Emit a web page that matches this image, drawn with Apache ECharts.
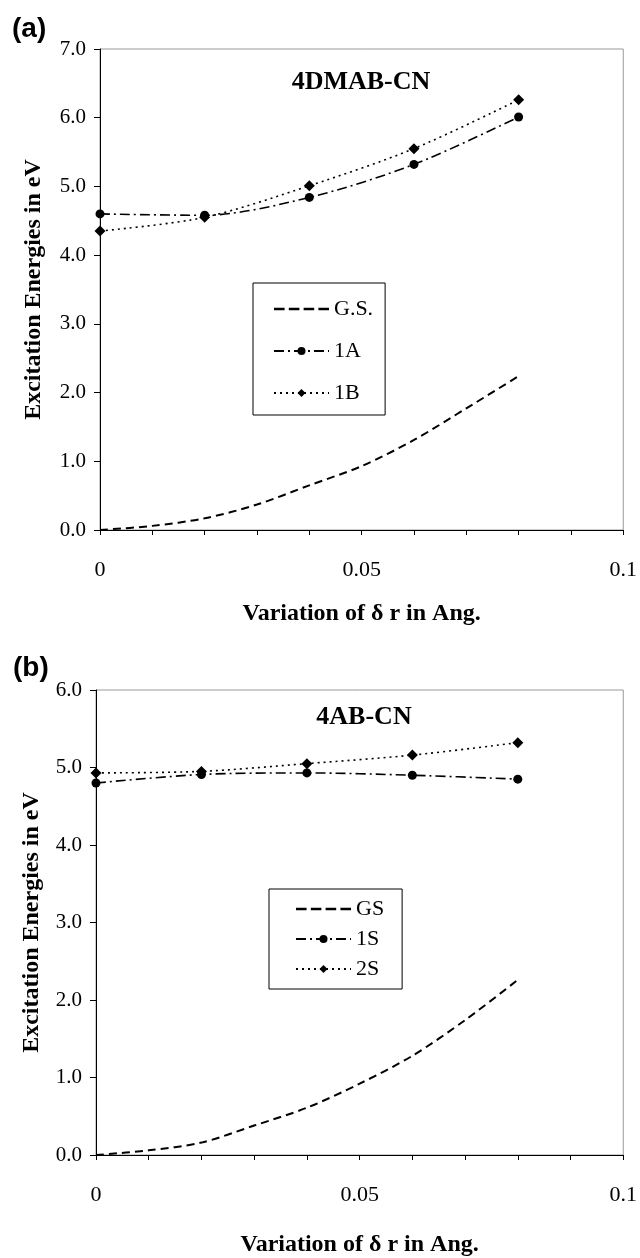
<!DOCTYPE html>
<html>
<head>
<meta charset="utf-8">
<script src="https://cdn.jsdelivr.net/npm/echarts@6/dist/echarts.min.js"></script>
<style>
html,body{margin:0;padding:0;background:#fff;}
#main{width:640px;height:1258px;}
</style>
</head>
<body>
<div id="main"></div>
<script>
// x positions of computed points (delta r, Ang.)
var xVals = [0, 0.02, 0.04, 0.06, 0.08];
var gsX = [0, 0.01, 0.02, 0.03, 0.04, 0.05, 0.06, 0.07, 0.08];

// panel (a) 4DMAB-CN
var aGS = [0, 0.06, 0.17, 0.37, 0.65, 0.93, 1.31, 1.77, 2.24];
var a1A = [4.60, 4.58, 4.84, 5.32, 6.01];
var a1B = [4.35, 4.55, 5.01, 5.55, 6.26];

// panel (b) 4AB-CN
var bGS = [0, 0.06, 0.16, 0.38, 0.61, 0.92, 1.28, 1.74, 2.26];
var b1S = [4.80, 4.91, 4.93, 4.90, 4.85];
var b2S = [4.93, 4.95, 5.05, 5.16, 5.32];

var xLabels = ['0', '0.05', '0.1'];

var serif = 'Liberation Serif';
// dashed line legend icon for the ground state (no marker)
var dashIcon = 'path://M0,9h10v2.4h-10z M14,9h10v2.4h-10z M28,9h10v2.4h-10z M42,9h10v2.4h-10z';

function pairs(xs, ys) {
    var out = [];
    for (var i = 0; i < ys.length; i++) {
        out.push([xs[i], ys[i]]);
    }
    return out;
}

function xAxisFor(gridIndex, gap) {
    return {
        type: 'value', gridIndex: gridIndex, min: 0, max: 0.1, interval: 0.01,
        name: 'Variation of δ r in Ang.', nameLocation: 'middle', nameGap: gap,
        nameTextStyle: {fontFamily: serif, fontWeight: 'bold', fontSize: 24, color: '#000'},
        axisLine: {onZero: false, lineStyle: {color: '#000', width: 1}},
        axisTick: {show: true, inside: false, length: 5, lineStyle: {color: '#000'}},
        splitLine: {show: false},
        axisLabel: {
            showMinLabel: true, showMaxLabel: true, margin: 29,
            fontFamily: serif, fontSize: 22, color: '#000',
            formatter: function (v) {
                if (Math.abs(v) < 1e-9) return xLabels[0];
                if (Math.abs(v - 0.05) < 1e-9) return xLabels[1];
                if (Math.abs(v - 0.1) < 1e-9) return xLabels[2];
                return '';
            }
        }
    };
}

function yAxisFor(gridIndex, max, gap) {
    return {
        type: 'value', gridIndex: gridIndex, min: 0, max: max, interval: 1,
        name: 'Excitation Energies in eV', nameLocation: 'middle', nameGap: gap,
        nameTextStyle: {fontFamily: serif, fontWeight: 'bold', fontSize: 24, color: '#000'},
        axisLine: {show: true, lineStyle: {color: '#000', width: 1}},
        axisTick: {show: true, inside: false, length: 6, lineStyle: {color: '#000'}},
        splitLine: {show: false},
        axisLabel: {
            margin: 14, fontFamily: serif, fontSize: 21, color: '#000',
            formatter: function (v) { return v.toFixed(1); }
        }
    };
}

function lineSeries(name, idx, data, dash, symbol, size, width, smooth) {
    return {
        name: name, type: 'line', xAxisIndex: idx, yAxisIndex: idx,
        data: data, smooth: smooth,
        symbol: symbol, symbolSize: size, showSymbol: symbol !== 'none',
        itemStyle: {color: '#000'},
        lineStyle: {color: '#000', width: width, type: dash},
        animation: false
    };
}

var gsDash = [8, 5];
var dashDot = [10, 4, 2, 4];
var dotted = [2, 4];

var myChart = echarts.init(document.getElementById('main'));

var option = {
    backgroundColor: '#fff',
    animation: false,
    grid: [
        {left: 100, top: 49, width: 528, height: 481, show: true, borderColor: '#999', borderWidth: 1},
        {left: 96, top: 690, width: 528, height: 481, show: true, borderColor: '#999', borderWidth: 1}
    ],
    xAxis: [xAxisFor(0, 72), xAxisFor(1, 78)],
    yAxis: [yAxisFor(0, 7, 54), yAxisFor(1, 6, 52)],
    legend: [
        {
            orient: 'vertical', left: 253, top: 283,
            data: [{name: 'G.S.', icon: dashIcon}, '1A', '1B'],
            itemWidth: 55, itemHeight: 10, itemGap: 20,
            padding: [15, 12, 11, 20],
            borderColor: '#000', borderWidth: 1,
            textStyle: {fontFamily: serif, fontSize: 22, color: '#000'}
        },
        {
            orient: 'vertical', left: 269, top: 889,
            data: [{name: 'GS', icon: dashIcon}, '1S', '2S'],
            itemWidth: 55, itemHeight: 10, itemGap: 8,
            padding: [9, 18, 9, 26],
            borderColor: '#000', borderWidth: 1,
            textStyle: {fontFamily: serif, fontSize: 22, color: '#000'}
        }
    ],
    graphic: [
        {type: 'text', left: 12, top: 15, style: {text: '(a)', font: 'bold 28px "Liberation Sans"', fill: '#000'}},
        {type: 'text', left: 13, top: 654, style: {text: '(b)', font: 'bold 28px "Liberation Sans"', fill: '#000'}},
        {type: 'text', x: 361, y: 82, style: {text: '4DMAB-CN', font: 'bold 26px "Liberation Serif"', fill: '#000', textAlign: 'center', textVerticalAlign: 'middle'}},
        {type: 'text', x: 364, y: 717, style: {text: '4AB-CN', font: 'bold 26px "Liberation Serif"', fill: '#000', textAlign: 'center', textVerticalAlign: 'middle'}}
    ],
    series: [
        lineSeries('G.S.', 0, pairs(gsX, aGS), gsDash, 'none', 0, 2, 0.3),
        lineSeries('1A', 0, pairs(xVals, a1A), dashDot, 'circle', 9, 1.6, 0.3),
        lineSeries('1B', 0, pairs(xVals, a1B), dotted, 'diamond', 11, 1.6, 0.3),
        lineSeries('GS', 1, pairs(gsX, bGS), gsDash, 'none', 0, 2, 0.3),
        lineSeries('1S', 1, pairs(xVals, b1S), dashDot, 'circle', 9, 1.6, 0.3),
        lineSeries('2S', 1, pairs(xVals, b2S), dotted, 'diamond', 11, 1.6, 0.3)
    ]
};

myChart.setOption(option);
</script>
</body>
</html>
